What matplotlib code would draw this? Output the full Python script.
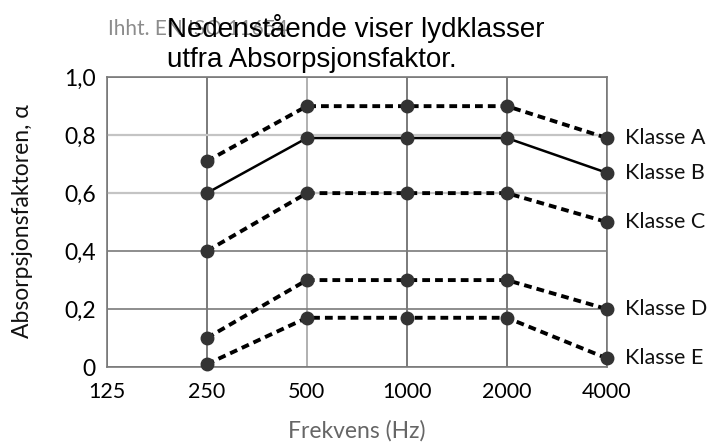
import matplotlib.pyplot as plt

freqs = ['125', '250', '500', '1000', '2000', '4000']
classes = ['Klasse A', 'Klasse B', 'Klasse C', 'Klasse D', 'Klasse E']
x_idx = [1, 2, 3, 4, 5]  # 250 .. 4000 Hz
values = {
    'Klasse A': [0.71, 0.90, 0.90, 0.90, 0.79],
    'Klasse B': [0.60, 0.79, 0.79, 0.79, 0.67],
    'Klasse C': [0.40, 0.60, 0.60, 0.60, 0.50],
    'Klasse D': [0.10, 0.30, 0.30, 0.30, 0.20],
    'Klasse E': [0.01, 0.17, 0.17, 0.17, 0.03],
}
yticks = [0, 0.2, 0.4, 0.6, 0.8, 1.0]
ytick_labels = ['0', '0,2', '0,4', '0,6', '0,8', '1,0']

fig = plt.figure(figsize=(7.12, 4.46), dpi=100)
ax = fig.add_axes([0.150, 0.177, 0.7025, 0.650])

# grid
for i in range(len(freqs)):
    c = '#b0b0b0' if i == 2 else '#7a7a7a'
    ax.axvline(i, color=c, lw=1.4, zorder=1)
for y in yticks:
    c = '#c4c4c4' if y in (0.6, 0.8) else '#7a7a7a'
    ax.axhline(y, color=c, lw=1.6 if y in (0.6, 0.8) else 1.2, zorder=1)

for name in classes:
    ls = '-' if name == 'Klasse B' else (0, (2.0, 1.3))
    lw = 1.8 if name == 'Klasse B' else 2.8
    ax.plot(x_idx, values[name], color='black', ls=ls, lw=lw, zorder=2)
    ax.plot(x_idx, values[name], 'o', color='#333333', ms=9, zorder=3,
            clip_on=False)
    ax.annotate(name, (x_idx[-1], values[name][-1]), xytext=(13, 0),
                textcoords='offset points', va='center', ha='left',
                fontsize=15.5, family='Lato', color='#111111',
                annotation_clip=False)

ax.set_xlim(0, 5)
ax.set_ylim(0, 1.0)
ax.set_xticks(range(len(freqs)))
ax.set_xticklabels(freqs, family='Lato', fontsize=15.5)
ax.set_yticks(yticks)
ax.set_yticklabels(ytick_labels, family='Lato', fontsize=16.5)
ax.tick_params(length=0)
ax.tick_params(axis='x', pad=11)
ax.tick_params(axis='y', pad=8)
for s in ax.spines.values():
    s.set_color('#7a7a7a')
    s.set_linewidth(1.2)

ax.set_xlabel('Frekvens (Hz)', family='Lato', fontsize=16.5, color='#666666')
ax.xaxis.set_label_coords(0.5, -0.183)
ax.set_ylabel('Absorpsjonsfaktoren, α', family='Lato', fontsize=16.5,
              color='#111111')
ax.yaxis.set_label_coords(-0.148, 0.505)

fig.text(108 / 712, 1 - 29 / 446, 'Ihht. EN ISO 11654', family='Lato',
         fontsize=15, color='#8c8c8c', va='center', ha='left')
fig.text(167 / 712, 1 - 14 / 446,
         'Nedenstående viser lydklasser\nutfra Absorpsjonsfaktor.',
         family='Liberation Sans', fontsize=20, color='black',
         va='top', ha='left', linespacing=1.2)

fig.savefig('out.png', dpi=100)
